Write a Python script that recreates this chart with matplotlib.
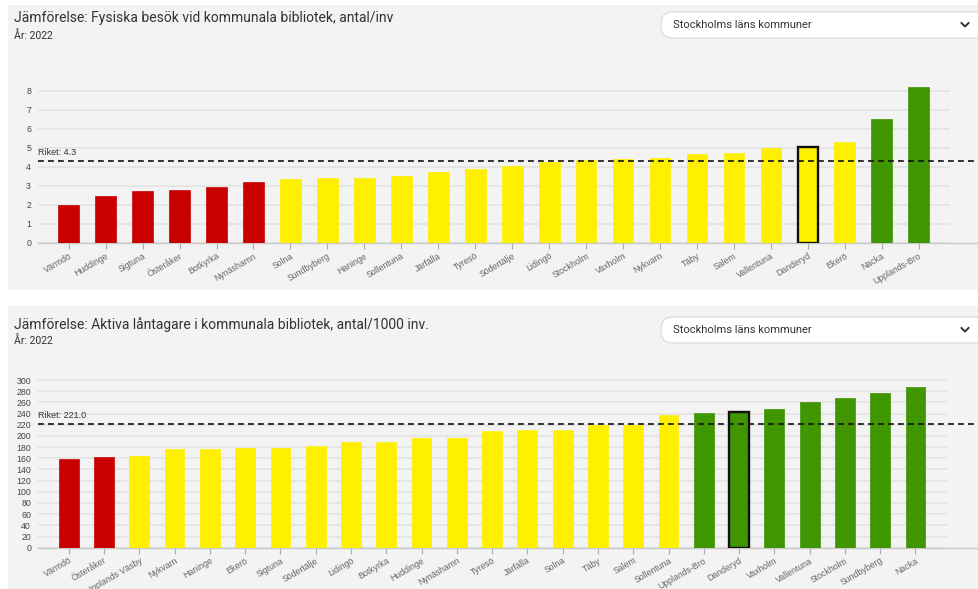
import matplotlib
matplotlib.use("Agg")
import matplotlib.pyplot as plt
from matplotlib.patches import Rectangle, FancyBboxPatch
from matplotlib.lines import Line2D
from matplotlib.transforms import IdentityTransform

# top chart: physical visits per inhabitant
top_names = ["Värmdö", "Huddinge", "Sigtuna", "Österåker", "Botkyrka", "Nynäshamn",
             "Solna", "Sundbyberg", "Haninge", "Sollentuna", "Järfälla", "Tyresö",
             "Södertälje", "Lidingö", "Stockholm", "Vaxholm", "Nykvarn", "Täby",
             "Salem", "Vallentuna", "Danderyd", "Ekerö", "Nacka", "Upplands-Bro"]
top_values = [1.98, 2.46, 2.75, 2.79, 2.96, 3.19, 3.37, 3.44, 3.44, 3.54, 3.75, 3.9,
              4.04, 4.24, 4.35, 4.39, 4.48, 4.66, 4.73, 4.99, 5.02, 5.32, 6.5, 8.18]
top_groups = ["r"] * 6 + ["y"] * 16 + ["g"] * 2
top_riket = 4.3

# bottom chart: active borrowers per 1000 inhabitants
bot_names = ["Värmdö", "Österåker", "Upplands Väsby", "Nykvarn", "Haninge", "Ekerö",
             "Sigtuna", "Södertälje", "Lidingö", "Botkyrka", "Huddinge", "Nynäshamn",
             "Tyresö", "Järfälla", "Solna", "Täby", "Salem", "Sollentuna",
             "Upplands-Bro", "Danderyd", "Vaxholm", "Vallentuna", "Stockholm",
             "Sundbyberg", "Nacka"]
bot_values = [158, 161.5, 164.5, 177, 177, 179, 179, 182.5, 189, 189, 197, 197,
              208, 210, 211, 219.5, 219.5, 238, 240.5, 243, 247.5, 260, 267, 277, 287.5]
bot_groups = ["r"] * 2 + ["y"] * 16 + ["g"] * 7
bot_riket = 221.0

highlight = "Danderyd"
colors = {"r": "#c80000", "y": "#fff000", "g": "#409600"}
bg = "#f3f3f3"

W, H = 979, 589
fig = plt.figure(figsize=(W / 100, H / 100), dpi=100)
fig.patch.set_facecolor("white")


def px_axes(left, top, right, bottom):
    ax = fig.add_axes([left / W, 1 - bottom / H, (right - left) / W, (bottom - top) / H])
    ax.set_zorder(2)
    return ax


def panel(top, bottom, title, yr_y, title_y, dd_top):
    fig.patches.append(Rectangle((8 / W, 1 - bottom / H), (W - 8) / W, (bottom - top) / H,
                                 transform=fig.transFigure, facecolor=bg, edgecolor="none",
                                 zorder=-10))
    fig.text(14 / W, 1 - title_y / H, title, fontsize=10, family="Roboto", color="#333333",
             va="center")
    fig.text(14 / W, 1 - yr_y / H, "År: 2022", fontsize=7.5, family="Roboto", color="#333333",
             va="center")
    fig.patches.append(FancyBboxPatch((661, H - (dd_top + 26)), 340, 26,
                                      boxstyle="round,pad=0,rounding_size=12",
                                      transform=IdentityTransform(), facecolor="white",
                                      edgecolor="#d8d8d8", lw=0.8, zorder=1))
    fig.text(673 / W, 1 - (dd_top + 13) / H, "Stockholms läns kommuner", fontsize=8,
             family="Roboto", color="#333333", va="center", zorder=2)
    cx, cy = 965, dd_top + 13
    fig.lines.append(Line2D([(cx - 3.5) / W, cx / W, (cx + 3.5) / W],
                            [1 - (cy - 2) / H, 1 - (cy + 1.5) / H, 1 - (cy - 2) / H],
                            transform=fig.transFigure, color="#333333", lw=1.4, zorder=2))


def chart(ax, names, values, groups, riket, ticks, ylim, xlim, grid_end, riket_fmt):
    ax.set_facecolor(bg)
    x = list(range(len(names)))
    bars = ax.bar(x, values, width=0.56, color=[colors[g] for g in groups],
                  edgecolor=[colors[g] for g in groups], linewidth=0.5, zorder=3)
    for b, n in zip(bars, names):
        if n == highlight:
            b.set_edgecolor("#111111")
            b.set_linewidth(1.7)
    ax.hlines(ticks, xlim[0], grid_end, color="#e2e2e2", lw=1.1, zorder=1)
    ax.axhline(riket, color="#111111", lw=1.2, ls=(0, (3.5, 2.5)), zorder=4)
    ax.text(xlim[0], riket + (ylim[1] * 0.025), riket_fmt, fontsize=6.5,
            family="Liberation Sans", color="#333333", va="bottom", ha="left")
    ax.set_xlim(*xlim)
    ax.set_ylim(*ylim)
    ax.set_yticks(ticks)
    ax.set_xticks(x)
    ax.set_xticklabels(names, rotation=30, ha="right", rotation_mode="anchor",
                       fontsize=6.3, family="Liberation Sans", color="#666666")
    for lab in ax.get_yticklabels():
        lab.set_fontsize(6.3)
        lab.set_family("Liberation Sans")
        lab.set_color("#444444")
    ax.tick_params(axis="y", length=0, pad=5)
    ax.tick_params(axis="x", length=4, color="#aaaaaa", width=0.8, pad=2)
    for s in ["top", "right", "left"]:
        ax.spines[s].set_visible(False)
    ax.spines["bottom"].set_color("#c8c8c8")
    ax.spines["bottom"].set_linewidth(1.0)


panel(5, 290, "Jämförelse: Fysiska besök vid kommunala bibliotek, antal/inv", 36, 18, 12)
panel(306, 589, "Jämförelse: Aktiva låntagare i kommunala bibliotek, antal/1000 inv.",
      341, 325, 317)

ax1 = px_axes(38, 243 - 8.4 * 19.04, 979, 243)
chart(ax1, top_names, top_values, top_groups, top_riket, list(range(0, 9)),
      (0, 8.4), (-0.83, 24.63), 23.85, "Riket: 4.3")

ax2 = px_axes(38, 547.7 - 305 * 0.559, 979, 547.7)
chart(ax2, bot_names, bot_values, bot_groups, bot_riket, list(range(0, 301, 20)),
      (0, 305), (-0.87, 25.80), 24.89, "Riket: 221.0")

fig.savefig("out.png", dpi=100)
